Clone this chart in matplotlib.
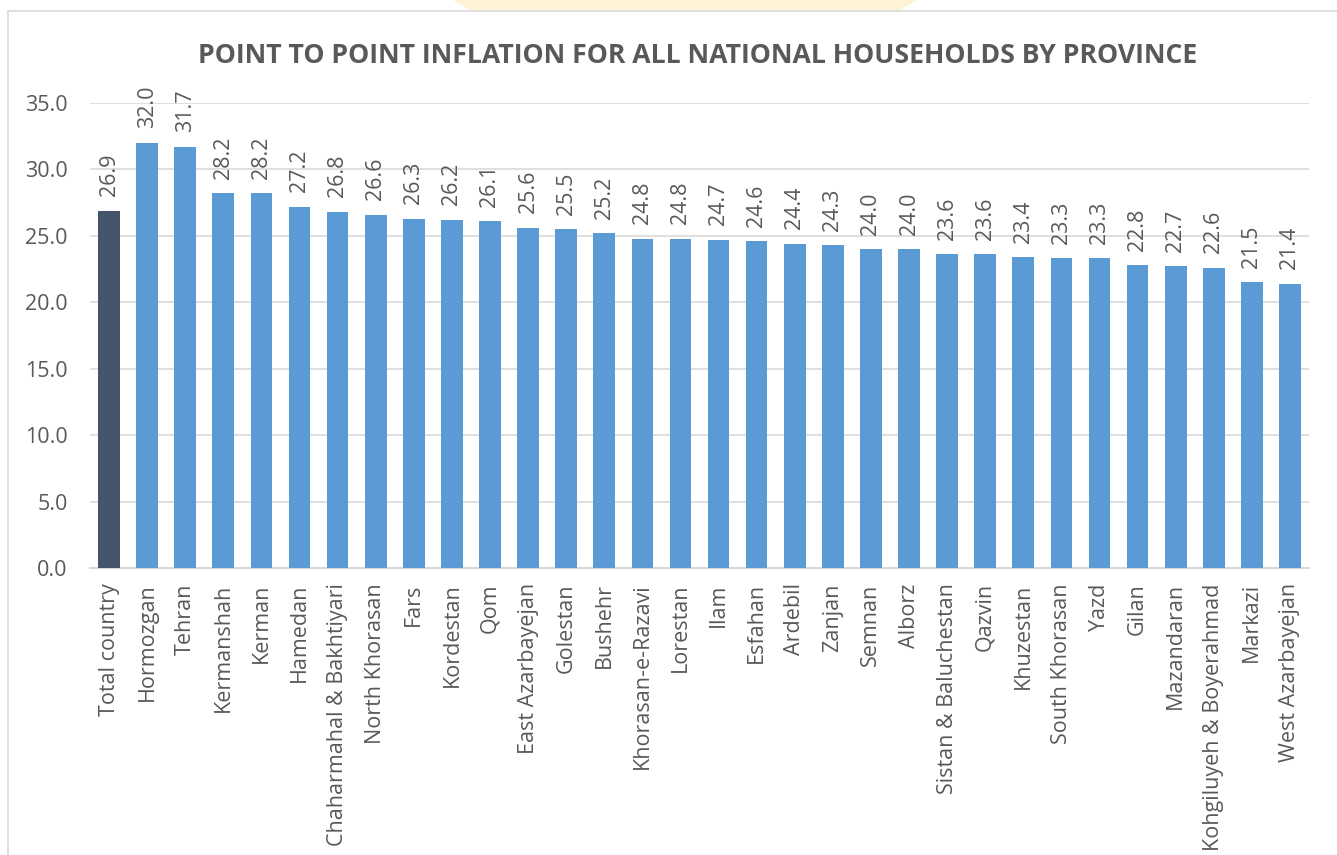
import numpy as np
import matplotlib
matplotlib.use('Agg')
import matplotlib.pyplot as plt
import matplotlib.patches as patches

provinces = ['Total country', 'Hormozgan', 'Tehran', 'Kermanshah', 'Kerman', 'Hamedan',
             'Chaharmahal & Bakhtiyari', 'North Khorasan', 'Fars', 'Kordestan', 'Qom',
             'East Azarbayejan', 'Golestan', 'Bushehr', 'Khorasan-e-Razavi', 'Lorestan',
             'Ilam', 'Esfahan', 'Ardebil', 'Zanjan', 'Semnan', 'Alborz',
             'Sistan & Baluchestan', 'Qazvin', 'Khuzestan', 'South Khorasan', 'Yazd',
             'Gilan', 'Mazandaran', 'Kohgiluyeh & Boyerahmad', 'Markazi', 'West Azarbayejan']
inflation = [26.9, 32.0, 31.7, 28.2, 28.2, 27.2, 26.8, 26.6, 26.3, 26.2, 26.1,
             25.6, 25.5, 25.2, 24.8, 24.8, 24.7, 24.6, 24.4, 24.3, 24.0, 24.0,
             23.6, 23.6, 23.4, 23.3, 23.3, 22.8, 22.7, 22.6, 21.5, 21.4]
yticks = [0, 5, 10, 15, 20, 25, 30, 35]

plt.rcParams['font.family'] = ['Open Sans', 'DejaVu Sans']
txt = '#595959'
grid = '#D9D9D9'

W, H = 1337, 855
fig = plt.figure(figsize=(W / 100, H / 100), dpi=100)
ax = fig.add_axes([90 / W, 1 - 568 / H, (1309 - 90) / W, (568 - 103) / H])

# faint watermark strip at the top and the chart border
fig.patches.append(patches.Polygon([(453 / W, 1), (470 / W, 1 - 10 / H), (900 / W, 1 - 10 / H), (917 / W, 1)],
                                   closed=True, transform=fig.transFigure, fc='#FFF3D6', ec='none', zorder=0))
fig.patches.append(patches.Rectangle((8 / W, -0.1), 1.2, 1 - 11 / H + 0.1, transform=fig.transFigure,
                                     fill=False, ec=grid, lw=1.2, zorder=0))

x = np.arange(len(provinces))
colors = ['#44546A'] + ['#5B9BD5'] * (len(provinces) - 1)
ax.bar(x, inflation, width=0.57, color=colors, zorder=3)

for xi, v in zip(x, inflation):
    ax.annotate(f'{v:.1f}', (xi, v), xytext=(0, 10.5), textcoords='offset points',
                rotation=90, ha='center', va='bottom', fontsize=15.5, color=txt)

ax.set_xlim(-0.5, len(provinces) - 0.5)
ax.set_ylim(0, 35)
ax.set_yticks(yticks)
ax.set_yticklabels([f'{t:.1f}' for t in yticks], fontsize=15.5, color=txt)
ax.set_xticks(x)
ax.set_xticklabels(provinces, rotation=90, fontsize=15.5, color=txt)
ax.tick_params(length=0)
ax.tick_params(axis='y', pad=16)
ax.tick_params(axis='x', pad=11)
ax.yaxis.grid(True, color=grid, lw=1.2, zorder=0)
for s in ['top', 'right', 'left']:
    ax.spines[s].set_visible(False)
ax.spines['bottom'].set_color(grid)
ax.spines['bottom'].set_linewidth(1.5)

fig.text(698 / W, 1 - 56 / H, 'POINT TO POINT INFLATION FOR ALL NATIONAL HOUSEHOLDS BY PROVINCE',
         ha='center', va='center', fontsize=19.2, fontweight='bold', color=txt)

fig.savefig('out.png', dpi=100)
